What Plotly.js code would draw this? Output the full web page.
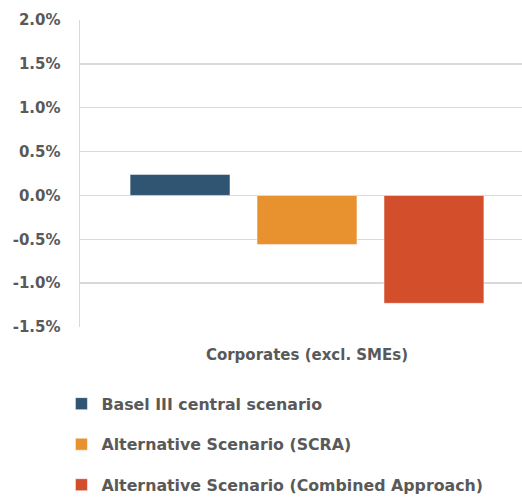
<!DOCTYPE html>
<html>
<head>
<meta charset="utf-8">
<script src="https://cdn.plot.ly/plotly-3.0.1.min.js"></script>
<style>html,body{margin:0;padding:0;background:#fff;}#chart{width:522px;height:497px;}</style>
</head>
<body>
<div id="chart"></div>
<script>
const categories = ["Corporates (excl. SMEs)"];
const seriesNames = ["Basel III central scenario", "Alternative Scenario (SCRA)", "Alternative Scenario (Combined Approach)"];
const basel = [0.0024];
const scra = [-0.0056];
const combined = [-0.0123];
const seriesColors = ["#2F5573", "#E8912F", "#D34E2A"];
const yTickVals = [-0.015, -0.01, -0.005, 0, 0.005, 0.01, 0.015, 0.02];
const yTickText = ["-1.5%", "-1.0%", "-0.5%", "0.0%", "0.5%", "1.0%", "1.5%", "2.0%"];

const values = [basel, scra, combined];
const fontFam = "'DejaVu Sans', Verdana, sans-serif";
const txt = "#595959";
const fnt = { family: fontFam, color: txt, size: 15, weight: 700 };

const traces = values.map((v, i) => ({
  type: "bar",
  x: categories,
  y: v,
  name: seriesNames[i],
  legendgroup: "g" + i,
  marker: { color: seriesColors[i], line: { color: "rgba(255,255,255,0.5)", width: 1 } },
  hoverinfo: "skip"
}));

const layout = {
  width: 522,
  height: 497,
  margin: { l: 80, r: 0, t: 20, b: 170, autoexpand: false },
  paper_bgcolor: "#fff",
  plot_bgcolor: "#fff",
  font: fnt,
  barmode: "group",
  bargap: 0.161,
  bargroupgap: 0.213,
  showlegend: true,
  legend: {
    orientation: "v",
    x: -0.042, xanchor: "left",
    y: -0.195, yanchor: "top",
    traceorder: "grouped",
    tracegroupgap: 17,
    font: { family: fontFam, color: txt, size: 15.8, weight: 700 },
    itemclick: false
  },
  xaxis: {
    type: "category",
    range: [-0.5, 0.4736],
    showgrid: false,
    zeroline: false,
    showline: false,
    ticks: "",
    ticklabelstandoff: 17,
    tickfont: fnt
  },
  yaxis: {
    range: [-0.015, 0.02],
    tickvals: yTickVals,
    ticktext: yTickText,
    showgrid: true,
    gridcolor: "#D9D9D9",
    gridwidth: 1.5,
    zeroline: true,
    zerolinecolor: "#D9D9D9",
    zerolinewidth: 1.5,
    showline: true,
    linecolor: "#D9D9D9",
    linewidth: 1.5,
    ticks: "",
    ticklabelstandoff: 15,
    tickfont: fnt
  }
};

Plotly.newPlot("chart", traces, layout, { staticPlot: true, displayModeBar: false });
</script>
</body>
</html>
